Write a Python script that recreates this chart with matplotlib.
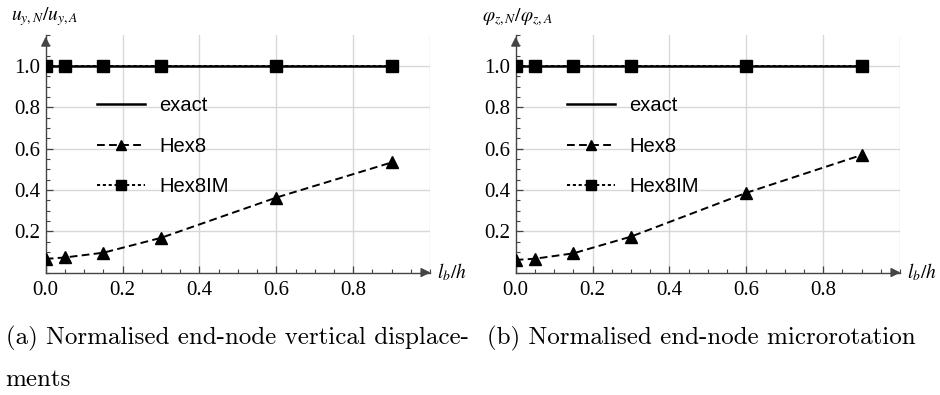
import numpy as np
import matplotlib.pyplot as plt
from matplotlib.ticker import MultipleLocator

plt.rcParams['mathtext.fontset'] = 'stix'

# data
lb_h = [0.0, 0.05, 0.15, 0.3, 0.6, 0.9]
exact = [1.0, 1.0, 1.0, 1.0, 1.0, 1.0]
hex8_disp = [0.066, 0.073, 0.096, 0.168, 0.363, 0.533]
hex8im_disp = [1.0, 1.0, 1.0, 1.0, 1.0, 1.0]
hex8_rot = [0.061, 0.067, 0.093, 0.174, 0.386, 0.569]
hex8im_rot = [1.0, 1.0, 1.0, 1.0, 1.0, 1.0]

ylabels = [r'$u_{y,N}/u_{y,A}$', r'$\varphi_{z,N}/\varphi_{z,A}$']

fig = plt.figure(figsize=(9.4, 3.95), dpi=100)
axes = [fig.add_axes([0.0486, 0.31, 0.409, 0.6015]),
        fig.add_axes([0.5486, 0.31, 0.409, 0.6015])]

panels = [(hex8_disp, hex8im_disp), (hex8_rot, hex8im_rot)]
ylab_x = [0.012, 0.513]

for ax, (h8, h8im), ylab, yx in zip(axes, panels, ylabels, ylab_x):
    ax.plot(lb_h, exact, color='black', lw=1.8, label='exact', zorder=3)
    ax.plot(lb_h, h8, color='black', lw=1.4, ls=(0, (4, 2.2)), marker='^',
            ms=8, label='Hex8', zorder=4)
    ax.plot(lb_h, h8im, color='black', lw=1.4, ls=(0, (1.6, 1.4)), marker='s',
            ms=9, label='Hex8IM', zorder=4)

    ax.set_xlim(0, 1.0)
    ax.set_ylim(0, 1.15)
    ax.xaxis.set_minor_locator(MultipleLocator(0.05))
    ax.yaxis.set_minor_locator(MultipleLocator(0.05))
    ax.set_xticks([0.0, 0.2, 0.4, 0.6, 0.8])
    ax.set_xticklabels(['0.0', '0.2', '0.4', '0.6', '0.8'])
    ax.set_yticks([0.2, 0.4, 0.6, 0.8, 1.0])
    ax.set_yticklabels(['0.2', '0.4', '0.6', '0.8', '1.0'])
    for lab in ax.get_xticklabels() + ax.get_yticklabels():
        lab.set_fontfamily('Liberation Serif')
        lab.set_fontsize(15)
    ax.tick_params(which='major', direction='in', length=5, width=0.9,
                   color='#444444')
    ax.tick_params(axis='y', which='major', pad=4)
    ax.tick_params(axis='x', which='major', pad=6)
    ax.tick_params(which='minor', direction='in', length=3, width=0.8,
                   color='#444444')

    # light grid, including the right edge
    for gx in [0.2, 0.4, 0.6, 0.8, 1.0]:
        ax.axvline(gx, color='#d8d8d8', lw=1.0, zorder=0)
    for gy in [0.2, 0.4, 0.6, 0.8, 1.0]:
        ax.axhline(gy, color='#d8d8d8', lw=1.0, zorder=0)

    for s in ['top', 'right']:
        ax.spines[s].set_visible(False)
    for s in ['left', 'bottom']:
        ax.spines[s].set_color('#444444')
        ax.spines[s].set_linewidth(1.0)

    # arrow heads
    ax.annotate('', xy=(1.008, 0), xytext=(0.97, 0), xycoords='data',
                arrowprops=dict(arrowstyle='-|>', color='#444444', lw=1.0,
                                mutation_scale=14), annotation_clip=False)
    ax.annotate('', xy=(0, 1.155), xytext=(0, 1.1), xycoords='data',
                arrowprops=dict(arrowstyle='-|>', color='#444444', lw=1.0,
                                mutation_scale=14), annotation_clip=False)

    ax.text(1.018, 0.0, r'$l_b/h$', fontsize=14, va='center', ha='left')
    fig.text(yx, 0.957, ylab, fontsize=14, va='center', ha='left')

    leg = ax.legend(loc='upper left', bbox_to_anchor=(0.113, 0.775),
                    frameon=False, handlelength=2.35, handletextpad=0.75,
                    labelspacing=1.05, borderaxespad=0,
                    prop={'family': 'Liberation Sans', 'size': 14.5})
    for line in leg.get_lines():
        line.set_markersize(7)

fig.text(0.006, 0.142, '(a) Normalised end-node vertical displace-',
         fontsize=18, family='cmr10', va='center', ha='left')
fig.text(0.006, 0.038, 'ments', fontsize=18, family='cmr10',
         va='center', ha='left')
fig.text(0.518, 0.142, '(b) Normalised end-node microrotation',
         fontsize=18, family='cmr10', va='center', ha='left')

fig.savefig('out.png', dpi=100)
